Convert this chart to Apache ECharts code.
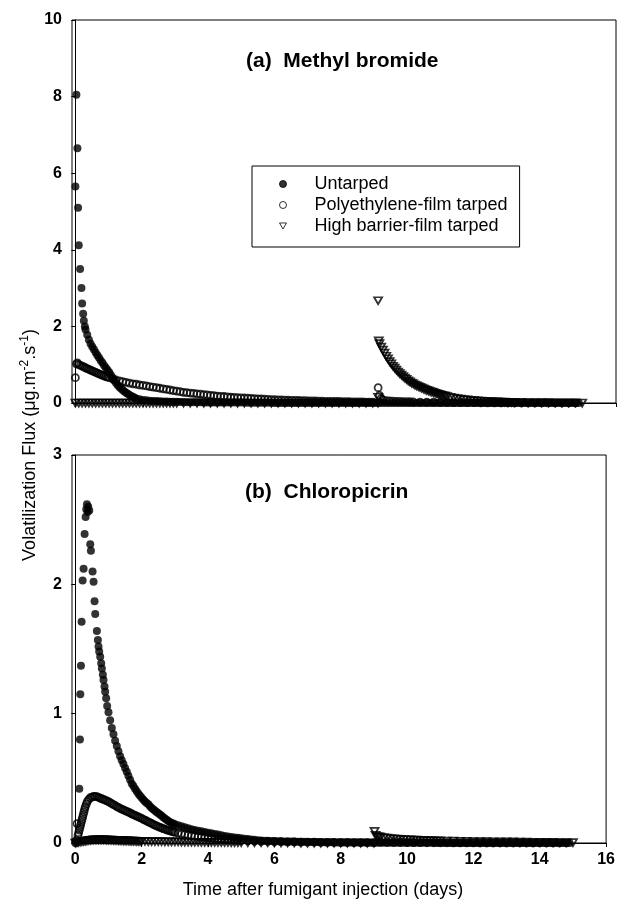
<!DOCTYPE html>
<html><head><meta charset="utf-8">
<script src="https://cdn.jsdelivr.net/npm/echarts@6/dist/echarts.min.js"></script>
<style>html,body{margin:0;padding:0;background:#fff}#c{width:618px;height:899px}</style>
</head><body><div id="c"></div>
<script>
const xTicks=[0,2,4,6,8,10,12,14,16];
const seriesNames=['Untarped','Polyethylene-film tarped','High barrier-film tarped'];
const panelTitles=['(a)  Methyl bromide','(b)  Chloropicrin'];
const xTitle='Time after fumigant injection (days)';

// (a) Methyl bromide: [day, flux]
const mbUntarped=[[0,5.65],[0.03,8.05],[0.06,6.65],[0.08,5.1],[0.1,4.12],[0.14,3.5],[0.18,3.0],[0.2,2.6],[0.23,2.33],[0.25,2.15],[0.28,2.0],[0.3,1.92],[0.35,1.78],[0.4,1.65],[0.45,1.55],[0.5,1.47],[0.55,1.4],[0.6,1.32],[0.65,1.25],[0.7,1.18],[0.75,1.11],[0.8,1.05],[0.85,0.98],[0.9,0.92],[0.95,0.86],[1.0,0.8],[1.05,0.73],[1.1,0.66],[1.15,0.59],[1.2,0.53],[1.25,0.47],[1.3,0.42],[1.35,0.38],[1.4,0.34],[1.45,0.3],[1.5,0.27],[1.55,0.24],[1.6,0.21],[1.65,0.18],[1.7,0.16],[1.75,0.14],[1.8,0.12],[1.9,0.1],[2.0,0.08],[2.1,0.07],[2.2,0.06],[2.3,0.055],[2.4,0.05],[2.5,0.045],[2.6,0.04],[2.7,0.037],[2.8,0.035],[2.9,0.032],[3.0,0.03],[3.1,0.027],[3.2,0.025],[3.3,0.022],[3.4,0.02],[3.5,0.02],[3.6,0.02],[3.7,0.017],[3.8,0.015],[3.9,0.015],[4.0,0.015],[4.1,0.012],[4.2,0.01],[4.3,0.01],[4.4,0.01],[4.5,0.01],[4.6,0.01],[4.7,0.01],[4.8,0.01],[4.9,0.01],[5.0,0.01],[5.1,0.007],[5.2,0.005],[5.3,0.005],[5.4,0.005],[5.5,0.005],[5.6,0.005],[5.7,0.005],[5.8,0.005],[5.9,0.002],[6.0,0],[6.1,0],[6.2,0],[6.3,0],[6.4,0],[6.5,0],[6.6,0],[6.7,0],[6.8,0],[6.9,0],[7.0,0],[7.1,0],[7.2,0],[7.3,0],[7.4,0],[7.5,0],[7.6,0],[7.7,0],[7.8,0],[7.9,0],[8.0,0],[8.1,0],[8.2,0],[8.3,0],[8.4,0],[8.5,0],[8.6,0],[8.7,0],[8.8,0],[8.9,0],[9.0,0],[9.1,0],[9.2,0],[9.3,0],[9.4,0],[9.5,0],[9.6,0],[9.7,0],[9.8,0],[9.9,0],[10.0,0],[10.1,0],[10.2,0],[10.3,0],[10.4,0],[10.5,0],[10.6,0],[10.7,0],[10.8,0],[10.9,0],[11.0,0],[11.1,0],[11.2,0],[11.3,0],[11.4,0],[11.5,0],[11.6,0],[11.7,0],[11.8,0],[11.9,0],[12.0,0],[12.1,0],[12.2,0],[12.3,0],[12.4,0],[12.5,0],[12.6,0],[12.7,0],[12.8,0],[12.9,0],[13.0,0],[13.1,0],[13.2,0],[13.3,0],[13.4,0],[13.5,0],[13.6,0],[13.7,0],[13.8,0],[13.9,0],[14.0,0],[14.1,0],[14.2,0],[14.3,0],[14.4,0],[14.5,0],[14.6,0],[14.7,0],[14.8,0],[14.9,0]];
const mbPoly=[[0,0.66],[0.03,1.02],[0.06,1.05],[0.1,1.0],[0.15,0.98],[0.2,0.96],[0.25,0.94],[0.3,0.92],[0.35,0.9],[0.4,0.88],[0.45,0.86],[0.5,0.84],[0.55,0.82],[0.6,0.8],[0.65,0.78],[0.7,0.76],[0.75,0.74],[0.8,0.72],[0.85,0.705],[0.9,0.69],[0.95,0.675],[1.0,0.66],[1.1,0.63],[1.2,0.6],[1.3,0.58],[1.4,0.56],[1.5,0.54],[1.6,0.52],[1.7,0.5],[1.8,0.49],[1.9,0.47],[2.0,0.46],[2.1,0.445],[2.2,0.43],[2.3,0.415],[2.4,0.4],[2.5,0.385],[2.6,0.37],[2.7,0.355],[2.8,0.34],[2.9,0.325],[3.0,0.31],[3.1,0.295],[3.2,0.28],[3.3,0.27],[3.4,0.26],[3.5,0.25],[3.6,0.24],[3.7,0.23],[3.8,0.22],[3.9,0.21],[4.0,0.2],[4.1,0.19],[4.2,0.18],[4.3,0.175],[4.4,0.17],[4.5,0.16],[4.6,0.15],[4.7,0.145],[4.8,0.14],[4.9,0.135],[5.0,0.13],[5.1,0.125],[5.2,0.12],[5.3,0.115],[5.4,0.11],[5.5,0.105],[5.6,0.1],[5.7,0.095],[5.8,0.09],[5.9,0.085],[6.0,0.08],[6.1,0.078],[6.2,0.075],[6.3,0.072],[6.4,0.07],[6.5,0.067],[6.6,0.065],[6.7,0.062],[6.8,0.06],[6.9,0.057],[7.0,0.055],[7.1,0.052],[7.2,0.05],[7.3,0.047],[7.4,0.045],[7.5,0.042],[7.6,0.04],[7.7,0.04],[7.8,0.04],[7.9,0.037],[8.0,0.035],[8.1,0.032],[8.2,0.03],[8.3,0.03],[8.4,0.03],[8.5,0.027],[8.6,0.025],[8.7,0.025],[8.8,0.025],[8.96,0.4],[9.0,0.2],[9.05,0.12],[9.1,0.08],[9.2,0.06],[9.3,0.055],[9.4,0.05],[9.5,0.045],[9.6,0.04],[9.7,0.037],[9.8,0.035],[9.9,0.032],[10.0,0.03],[10.2,0.025],[10.4,0.02],[10.6,0.02],[10.8,0.015],[11.0,0.015],[11.2,0.01],[11.4,0.01],[11.6,0.01],[11.8,0.01],[12.0,0.005],[12.2,0.005],[12.4,0.005],[12.6,0.005],[12.8,0],[13.0,0],[13.2,0],[13.4,0],[13.6,0],[13.8,0],[14.0,0],[14.2,0],[14.4,0],[14.6,0],[14.8,0]];
const mbHigh=[[0,0],[0.1,0],[0.2,0],[0.3,0],[0.4,0],[0.5,0],[0.6,0],[0.7,0],[0.8,0],[0.9,0],[1.0,0],[1.1,0],[1.2,0],[1.3,0],[1.4,0],[1.5,0],[1.6,0],[1.7,0],[1.8,0],[1.9,0],[2.0,0],[2.1,0],[2.2,0],[2.3,0],[2.4,0],[2.5,0],[2.6,0],[2.7,0],[2.8,0],[2.9,0],[3.0,0],[3.2,0],[3.4,0],[3.6,0],[3.8,0],[4.0,0],[4.2,0],[4.4,0],[4.6,0],[4.8,0],[5.0,0],[5.2,0],[5.4,0],[5.6,0],[5.8,0],[6.0,0],[6.2,0],[6.4,0],[6.6,0],[6.8,0],[7.0,0],[7.2,0],[7.4,0],[7.6,0],[7.8,0],[8.0,0],[8.2,0],[8.4,0],[8.6,0],[8.8,0],[8.96,0],[8.96,0.15],[8.96,2.67],[8.98,1.62],[9.0,1.55],[9.05,1.46],[9.1,1.38],[9.15,1.3],[9.2,1.22],[9.25,1.15],[9.3,1.08],[9.35,1.02],[9.4,0.96],[9.45,0.91],[9.5,0.86],[9.55,0.81],[9.6,0.77],[9.65,0.73],[9.7,0.69],[9.75,0.65],[9.8,0.62],[9.85,0.58],[9.9,0.55],[9.95,0.52],[10.0,0.5],[10.05,0.47],[10.1,0.45],[10.15,0.43],[10.2,0.41],[10.25,0.39],[10.3,0.37],[10.35,0.35],[10.4,0.33],[10.45,0.315],[10.5,0.3],[10.55,0.285],[10.6,0.27],[10.65,0.255],[10.7,0.24],[10.75,0.225],[10.8,0.21],[10.85,0.2],[10.9,0.19],[10.95,0.18],[11.0,0.17],[11.1,0.15],[11.2,0.13],[11.3,0.115],[11.4,0.1],[11.5,0.09],[11.6,0.08],[11.7,0.07],[11.8,0.06],[11.9,0.055],[12.0,0.05],[12.1,0.045],[12.2,0.04],[12.3,0.035],[12.4,0.03],[12.5,0.027],[12.6,0.025],[12.7,0.022],[12.8,0.02],[12.9,0.019],[13.0,0.018],[13.2,0.015],[13.4,0.013],[13.6,0.01],[13.8,0.01],[14.0,0.008],[14.2,0.006],[14.4,0.005],[14.6,0.004],[14.8,0.003],[15.0,0]];

// (b) Chloropicrin: [day, flux]
const clUntarped=[[0,0],[0.12,0.42],[0.14,0.8],[0.15,1.15],[0.17,1.37],[0.19,1.71],[0.22,2.03],[0.25,2.12],[0.28,2.39],[0.31,2.52],[0.33,2.58],[0.35,2.62],[0.37,2.56],[0.39,2.6],[0.42,2.57],[0.45,2.31],[0.47,2.26],[0.52,2.1],[0.55,2.02],[0.58,1.87],[0.6,1.77],[0.65,1.64],[0.68,1.57],[0.7,1.52],[0.72,1.48],[0.75,1.44],[0.78,1.39],[0.8,1.35],[0.83,1.3],[0.85,1.26],[0.88,1.21],[0.9,1.17],[0.93,1.12],[0.96,1.06],[1.0,1.01],[1.05,0.95],[1.1,0.89],[1.15,0.84],[1.2,0.79],[1.25,0.75],[1.3,0.71],[1.35,0.67],[1.4,0.64],[1.45,0.61],[1.5,0.58],[1.55,0.55],[1.6,0.52],[1.65,0.49],[1.7,0.46],[1.75,0.44],[1.8,0.42],[1.85,0.4],[1.9,0.38],[1.95,0.365],[2.0,0.35],[2.05,0.335],[2.1,0.32],[2.15,0.31],[2.2,0.3],[2.25,0.285],[2.3,0.27],[2.35,0.26],[2.4,0.25],[2.45,0.24],[2.5,0.23],[2.55,0.22],[2.6,0.21],[2.65,0.2],[2.7,0.19],[2.75,0.18],[2.8,0.17],[2.85,0.162],[2.9,0.155],[2.95,0.15],[3.0,0.145],[3.1,0.137],[3.2,0.13],[3.3,0.122],[3.4,0.115],[3.5,0.107],[3.6,0.1],[3.7,0.095],[3.8,0.09],[3.9,0.085],[4.0,0.08],[4.1,0.075],[4.2,0.07],[4.3,0.065],[4.4,0.06],[4.5,0.055],[4.6,0.05],[4.7,0.046],[4.8,0.043],[4.9,0.04],[5.0,0.036],[5.1,0.033],[5.2,0.03],[5.3,0.027],[5.4,0.025],[5.5,0.022],[5.6,0.02],[5.7,0.018],[5.8,0.017],[5.9,0.016],[6.0,0.015],[6.1,0.014],[6.2,0.013],[6.3,0.012],[6.4,0.012],[6.5,0.011],[6.6,0.011],[6.7,0.01],[6.8,0.01],[6.9,0.009],[7.0,0.008],[7.1,0.008],[7.2,0.007],[7.3,0.007],[7.4,0.006],[7.5,0.006],[7.6,0.005],[7.7,0.005],[7.8,0.005],[7.9,0.004],[8.0,0.004],[8.1,0.004],[8.2,0.004],[8.3,0.003],[8.4,0.003],[8.5,0.003],[8.6,0.003],[8.7,0.003],[8.8,0.003],[8.9,0.002],[9.0,0.002],[9.1,0.002],[9.2,0.002],[9.3,0.002],[9.4,0.002],[9.5,0.002],[9.6,0.002],[9.7,0.002],[9.8,0.002],[9.9,0.001],[10.0,0.001],[10.1,0.001],[10.2,0.001],[10.3,0.001],[10.4,0.001],[10.5,0.001],[10.6,0.001],[10.7,0.001],[10.8,0.001],[10.9,0],[11.0,0],[11.1,0],[11.2,0],[11.3,0],[11.4,0],[11.5,0],[11.6,0],[11.7,0],[11.8,0],[11.9,0],[12.0,0],[12.1,0],[12.2,0],[12.3,0],[12.4,0],[12.5,0],[12.6,0],[12.7,0],[12.8,0],[12.9,0],[13.0,0],[13.1,0],[13.2,0],[13.3,0],[13.4,0],[13.5,0],[13.6,0],[13.7,0],[13.8,0],[13.9,0],[14.0,0],[14.1,0],[14.2,0],[14.3,0],[14.4,0],[14.5,0],[14.6,0],[14.7,0],[14.8,0],[14.9,0]];
const clPoly=[[0.03,0.02],[0.05,0.15],[0.08,0.06],[0.1,0.08],[0.12,0.1],[0.14,0.12],[0.16,0.14],[0.18,0.16],[0.2,0.18],[0.22,0.2],[0.24,0.22],[0.26,0.24],[0.28,0.26],[0.3,0.28],[0.33,0.3],[0.36,0.32],[0.4,0.335],[0.45,0.35],[0.5,0.355],[0.55,0.36],[0.6,0.36],[0.65,0.358],[0.7,0.352],[0.75,0.347],[0.8,0.342],[0.85,0.337],[0.9,0.332],[0.95,0.326],[1.0,0.32],[1.05,0.312],[1.1,0.305],[1.15,0.297],[1.2,0.29],[1.25,0.282],[1.3,0.275],[1.35,0.268],[1.4,0.262],[1.45,0.256],[1.5,0.25],[1.55,0.244],[1.6,0.238],[1.65,0.232],[1.7,0.226],[1.75,0.22],[1.8,0.214],[1.85,0.208],[1.9,0.202],[1.95,0.196],[2.0,0.19],[2.05,0.183],[2.1,0.177],[2.15,0.17],[2.2,0.164],[2.25,0.157],[2.3,0.151],[2.35,0.144],[2.4,0.138],[2.45,0.132],[2.5,0.126],[2.55,0.121],[2.6,0.116],[2.65,0.111],[2.7,0.107],[2.75,0.102],[2.8,0.098],[2.85,0.094],[2.9,0.09],[2.95,0.086],[3.0,0.083],[3.1,0.077],[3.2,0.071],[3.3,0.066],[3.4,0.061],[3.5,0.057],[3.6,0.053],[3.7,0.049],[3.8,0.046],[3.9,0.043],[4.0,0.04],[4.1,0.037],[4.2,0.034],[4.3,0.032],[4.4,0.03],[4.5,0.028],[4.6,0.026],[4.7,0.024],[4.8,0.022],[4.9,0.02],[5.0,0.019],[5.2,0.017],[5.4,0.015],[5.6,0.013],[5.8,0.012],[6.0,0.011],[6.2,0.01],[6.4,0.009],[6.6,0.008],[6.8,0.007],[7.0,0.006],[7.2,0.006],[7.4,0.005],[7.6,0.005],[7.8,0.004],[8.0,0.004],[8.2,0.004],[8.4,0.003],[8.6,0.003],[8.8,0.003],[9.0,0.003],[9.2,0.006],[9.4,0.005],[9.6,0.004],[9.8,0.004],[10.0,0.003],[10.2,0.003],[10.4,0.003],[10.6,0.002],[10.8,0.002],[11.0,0.002],[11.2,0.002],[11.4,0.001],[11.6,0.001],[11.8,0.001],[12.0,0.001],[12.2,0],[12.4,0],[12.6,0],[12.8,0],[13.0,0],[13.2,0],[13.4,0],[13.6,0],[13.8,0],[14.0,0],[14.2,0],[14.4,0],[14.6,0],[14.8,0]];
const clHigh=[[0,0],[0.05,0.003],[0.1,0.005],[0.15,0.008],[0.2,0.01],[0.25,0.012],[0.3,0.015],[0.35,0.017],[0.4,0.02],[0.45,0.021],[0.5,0.022],[0.55,0.024],[0.6,0.025],[0.65,0.025],[0.7,0.025],[0.75,0.025],[0.8,0.025],[0.85,0.024],[0.9,0.024],[0.95,0.023],[1.0,0.023],[1.05,0.022],[1.1,0.022],[1.15,0.021],[1.2,0.02],[1.25,0.02],[1.3,0.019],[1.35,0.018],[1.4,0.018],[1.45,0.017],[1.5,0.017],[1.55,0.016],[1.6,0.016],[1.65,0.015],[1.7,0.015],[1.75,0.014],[1.8,0.014],[1.85,0.013],[1.9,0.013],[1.95,0.012],[2.0,0.012],[2.1,0.012],[2.2,0.011],[2.3,0.011],[2.4,0.01],[2.5,0.01],[2.6,0.01],[2.7,0.009],[2.8,0.009],[2.9,0.008],[3.0,0.008],[3.1,0.008],[3.2,0.007],[3.3,0.007],[3.4,0.007],[3.5,0.006],[3.6,0.006],[3.7,0.006],[3.8,0.005],[3.9,0.005],[4.0,0.005],[4.1,0.005],[4.2,0.005],[4.3,0.004],[4.4,0.004],[4.5,0.004],[4.6,0.004],[4.7,0.003],[4.8,0.003],[4.9,0.003],[5.0,0.003],[5.2,0.002],[5.4,0.002],[5.6,0.002],[5.8,0.002],[6.0,0.001],[6.2,0.001],[6.4,0.001],[6.6,0.001],[6.8,0],[7.0,0],[7.2,0],[7.4,0],[7.6,0],[7.8,0],[8.0,0],[8.2,0],[8.4,0],[8.6,0],[8.8,0],[9.0,0],[9.02,0.09],[9.05,0.06],[9.1,0.05],[9.15,0.047],[9.2,0.045],[9.3,0.041],[9.4,0.038],[9.5,0.035],[9.6,0.033],[9.7,0.03],[9.8,0.028],[9.9,0.026],[10.0,0.025],[10.1,0.024],[10.2,0.023],[10.3,0.022],[10.4,0.021],[10.5,0.02],[10.6,0.019],[10.7,0.018],[10.8,0.017],[10.9,0.016],[11.0,0.016],[11.2,0.015],[11.4,0.014],[11.6,0.013],[11.8,0.012],[12.0,0.011],[12.2,0.01],[12.4,0.01],[12.6,0.009],[12.8,0.009],[13.0,0.008],[13.2,0.008],[13.4,0.007],[13.6,0.007],[13.8,0.006],[14.0,0.006],[14.2,0.005],[14.4,0.005],[14.6,0.004],[14.8,0.004],[15.0,0.003]];

const FONT='"Liberation Sans", Arial, Helvetica, sans-serif';
const TRI='path://M0,0 L10,0 L5,8.66 Z';
const styles={
  'Untarped':{symbol:'circle',symbolSize:8,itemStyle:{color:'#000',borderColor:'#000',borderWidth:0}},
  'Polyethylene-film tarped':{symbol:'circle',symbolSize:7,itemStyle:{color:'rgba(255,255,255,0)',borderColor:'#000',borderWidth:1.8}},
  'High barrier-film tarped':{symbol:TRI,symbolSize:[8,7],itemStyle:{color:'rgba(255,255,255,0)',borderColor:'#000',borderWidth:1.8}}
};
function mk(name,data,g){
  return Object.assign({type:'scatter',name:name,data:data,xAxisIndex:g,yAxisIndex:g,silent:true,animation:false,clip:false},styles[name]);
}
function xAx(g,showLabels){
  return {type:'value',gridIndex:g,min:-0.1,max:16,
    axisLine:{show:true,onZero:false,lineStyle:{color:'#000',width:1}},
    axisTick:{show:true,length:4,customValues:xTicks,lineStyle:{color:'#000'}},
    axisLabel:{show:showLabels,customValues:xTicks,fontSize:16,fontWeight:'bold',color:'#000',fontFamily:FONT,margin:9},
    splitLine:{show:false}};
}
function yAx(g,max,interval){
  return {type:'value',gridIndex:g,min:0,max:max,interval:interval,
    axisLine:{show:true,lineStyle:{color:'#000',width:1}},
    axisTick:{show:true,length:4,lineStyle:{color:'#000'}},
    axisLabel:{fontSize:16,fontWeight:'bold',color:'#000',fontFamily:FONT,margin:10},
    splitLine:{show:false}};
}
const chart=echarts.init(document.getElementById('c'),null,{renderer:'canvas'});
chart.setOption({
  backgroundColor:'#fff',
  animation:false,
  title:[
    {text:panelTitles[0],left:246,top:51,padding:0,textStyle:{fontSize:21,fontWeight:'bold',color:'#000',fontFamily:FONT}},
    {text:panelTitles[1],left:245,top:482,padding:0,textStyle:{fontSize:21,fontWeight:'bold',color:'#000',fontFamily:FONT}}
  ],
  legend:{data:seriesNames,orient:'vertical',left:252,top:166,padding:[9,12,12,27],
    itemWidth:7,itemHeight:7,itemGap:3,borderColor:'#000',borderWidth:1,selectedMode:false,
    itemStyle:{borderWidth:1},
    textStyle:{fontSize:18,color:'#000',fontFamily:FONT,padding:[0,0,0,23]}},
  grid:[
    {left:72,right:2,top:20,height:383,show:true,borderColor:'#000',borderWidth:1,backgroundColor:'transparent'},
    {left:72,right:2,top:455,height:388,show:true,borderColor:'#000',borderWidth:1,backgroundColor:'transparent'}
  ],
  xAxis:[xAx(0,false),xAx(1,true)],
  yAxis:[yAx(0,10,2),yAx(1,3,1)],
  graphic:[
    {type:'text',x:30,y:445,rotation:Math.PI/2,silent:true,
     style:{text:'{a|Volatilization Flux (μg.m}{b|-2}{a|.s}{b|-1}{a|)}',align:'center',verticalAlign:'middle',fill:'#000',
       rich:{a:{fontSize:18,fontFamily:FONT,fill:'#000',lineHeight:22},b:{fontSize:12,fontFamily:FONT,fill:'#000',lineHeight:12,verticalAlign:'top'}}}},
    {type:'text',x:323,y:890,silent:true,
     style:{text:xTitle,align:'center',verticalAlign:'middle',fill:'#000',font:'18px '+FONT}}
  ],
  series:[
    mk(seriesNames[2],mbHigh,0),mk(seriesNames[1],mbPoly,0),mk(seriesNames[0],mbUntarped,0),
    mk(seriesNames[2],clHigh,1),mk(seriesNames[1],clPoly,1),mk(seriesNames[0],clUntarped,1)
  ]
});
</script></body></html>
